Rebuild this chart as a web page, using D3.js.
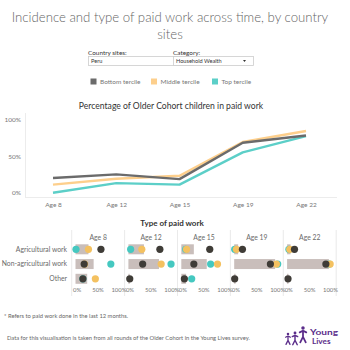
<!DOCTYPE html>
<html><head><meta charset="utf-8">
<script src="https://cdn.jsdelivr.net/npm/d3@7"></script>
<style>body{margin:0;background:#fff;}svg{display:block;font-family:Lato,"Open Sans",sans-serif;}</style>
</head><body>
<script>
// ---- data ----
const ages = ["Age 8","Age 12","Age 15","Age 19","Age 22"];
const terciles = ["Bottom tercile","Middle tercile","Top tercile"];
const bottomPct = [0.20,0.25,0.185,0.68,0.78];
const middlePct = [0.11,0.19,0.23,0.69,0.84];
const topPct    = [0.00,0.13,0.11,0.55,0.77];
const yTicks = [0,0.5,1];
const yTickLabels = ["0%","50%","100%"];

const workTypes = ["Agricultural work","Non-agricultural work","Other"];
// per age: [agricultural, non-agricultural, other]
const workAll    = [[0.29,0.41,0.26],[0.35,0.70,0.02],[0.28,0.58,0.10],[0.08,0.94,0.02],[0.07,0.96,0.02]];
const workBottom = [[0.58,0.19,0.16],[0.72,0.32,0.02],[0.65,0.28,0.06],[0.18,0.83,0.00],[0.16,0.89,0.01]];
const workMiddle = [[0.29,0.20,0.45],[0.30,0.75,null],[0.11,0.83,null],[0.04,0.97,null],[0.05,0.99,null]];
const workTop    = [[0.00,0.81,0.16],[0.04,0.98,null],[0.09,0.67,0.23],[0.00,1.00,null],[0.03,0.97,null]];
const xTicks = [0,0.5,1];
const xTickLabels = ["0%","50%","100%"];

const colors = {bottom:"#6b6b6b", middle:"#fdcf8c", top:"#5ccfc8"};
const dotColors = {bottom:"#3f3c37", middle:"#f4c160", top:"#45c8c0"};

const svg = d3.select("body").append("svg").attr("width",350).attr("height",350);
const txtCol = "#6a6a6a";

// ---- title ----
svg.append("text").attr("x",170).attr("y",22).attr("text-anchor","middle")
  .attr("font-size",13.2).attr("fill","#666").attr("font-weight",300).text("Incidence and type of paid work across time, by country");
svg.append("text").attr("x",170).attr("y",39).attr("text-anchor","middle")
  .attr("font-size",13.2).attr("fill","#666").attr("font-weight",300).text("sites");

// ---- dropdowns ----
function dropdown(x,w,label,value){
  svg.append("text").attr("x",x).attr("y",54.5).attr("font-size",6.4).attr("fill","#333").text(label);
  svg.append("rect").attr("x",x+0.5).attr("y",56.5).attr("width",w).attr("height",9).attr("fill","#fff").attr("stroke","#ccc").attr("stroke-width",0.8);
  svg.append("text").attr("x",x+3).attr("y",63.2).attr("font-size",5.6).attr("fill","#333").text(value);
  svg.append("path").attr("d",`M${x+w-10},60 l3,0 l-1.5,2 z`).attr("fill","#333");
}
dropdown(88,105,"Country sites:","Peru");
dropdown(173,80,"Category:","Household Wealth");

// ---- legend ----
const legX = [90.5,151,212];
const legCols = [colors.bottom, colors.middle, colors.top];
terciles.forEach((t,i)=>{
  svg.append("rect").attr("x",legX[i]).attr("y",78.5).attr("width",6).attr("height",6).attr("fill",legCols[i]);
  svg.append("text").attr("x",legX[i]+9.5).attr("y",84).attr("font-size",6.5).attr("fill","#777").text(t);
});

// ---- line chart ----
svg.append("text").attr("x",171).attr("y",108.5).attr("text-anchor","middle").attr("font-size",8.6).attr("fill","#333").text("Percentage of Older Cohort children in paid work");
const x = d3.scalePoint().domain(ages).range([53,306]);
const y = d3.scaleLinear().domain([0,1]).range([192.7,119.3]);
svg.append("line").attr("x1",25.5).attr("x2",25.5).attr("y1",113).attr("y2",197).attr("stroke","#ececec");
svg.append("line").attr("x1",25).attr("x2",337).attr("y1",197.5).attr("y2",197.5).attr("stroke","#ececec");
const yAxis = d3.axisLeft(y).tickValues(yTicks).tickFormat((d,i)=>yTickLabels[i]).tickSize(0).tickPadding(4);
const yg = svg.append("g").attr("transform","translate(25,0)").call(yAxis);
yg.select(".domain").remove();
yg.selectAll("text").attr("font-size",6.5).attr("fill","#777").attr("font-family","Lato,sans-serif");
const xAxis = d3.axisBottom(x).tickSize(0).tickPadding(5);
const xg = svg.append("g").attr("transform","translate(0,197.5)").call(xAxis);
xg.select(".domain").remove();
xg.selectAll("text").attr("font-size",6.5).attr("fill","#777").attr("font-family","Lato,sans-serif");
const line = d3.line().x((d,i)=>x(ages[i])).y(d=>y(d));
[[middlePct,colors.middle],[topPct,colors.top],[bottomPct,colors.bottom]].forEach(([s,c])=>{
  svg.append("path").attr("d",line(s)).attr("fill","none").attr("stroke",c).attr("stroke-width",2.4).attr("stroke-linejoin","round");
});

// ---- dot panel ----
svg.append("text").attr("x",172).attr("y",225.5).attr("text-anchor","middle").attr("font-size",8).attr("font-weight",700).attr("fill","#333").text("Type of paid work");
const seps = [71.7,124.6,177.5,230.4,283.3,336.2];
const yRow = d3.scalePoint().domain(workTypes).range([249.3,278.8]);
workTypes.forEach(w=>{
  svg.append("text").attr("x",67).attr("y",yRow(w)+2.4).attr("text-anchor","end").attr("font-size",6.8).attr("font-weight",400).attr("fill",txtCol).text(w);
});
seps.forEach(s=>{
  svg.append("line").attr("x1",s).attr("x2",s).attr("y1",230).attr("y2",296).attr("stroke","#e4e4e4").attr("stroke-width",0.8);
});
ages.forEach((a,i)=>{
  const xs = d3.scaleLinear().domain([-0.1,1.13]).range([seps[i],seps[i+1]]);
  const g = svg.append("g");
  g.append("text").attr("x",(seps[i]+seps[i+1])/2).attr("y",239.5).attr("text-anchor","middle").attr("font-size",6.8).attr("fill",txtCol).text(a);
  workTypes.forEach((w,j)=>{
    const v = workAll[i][j];
    g.append("rect").attr("x",xs(0)-0.5).attr("y",yRow(w)-5).attr("width",Math.max(1,xs(v)-xs(0)+0.5)).attr("height",10).attr("fill","#c9bebb");
  });
  [[workTop,dotColors.top],[workMiddle,dotColors.middle],[workBottom,dotColors.bottom]].forEach(([arr,c])=>{
    workTypes.forEach((w,j)=>{
      const v = arr[i][j];
      if(v==null) return;
      g.append("circle").attr("cx",xs(v)).attr("cy",yRow(w)).attr("r",3.6).attr("fill",c);
    });
  });
  const ax = d3.axisBottom(xs).tickValues(xTicks).tickFormat((d,k)=>xTickLabels[k]).tickSize(0).tickPadding(0);
  const axg = g.append("g").attr("transform","translate(0,288)").call(ax);
  axg.select(".domain").remove();
  axg.selectAll("text").attr("font-size",5.9).attr("fill","#777").attr("font-family","Lato,sans-serif");
  axg.selectAll("text").filter((d)=>d===1).attr("dx",-0.6);
  axg.selectAll("text").filter((d)=>d===0).attr("dx",0.6);
});

// ---- footnotes ----
svg.append("text").attr("x",4).attr("y",317.5).attr("font-size",5.8).attr("fill","#666").text("* Refers to paid work done in the last 12 months.");
svg.append("text").attr("x",7).attr("y",339.5).attr("font-size",5.8).attr("fill","#666").text("Data for this visualisation is taken from all rounds of the Older Cohort in the Young Lives survey.");

// ---- logo ----
const purple = "#5b2d8a";
const lg = svg.append("g").attr("fill",purple).attr("stroke",purple);
[[288,334,0.8],[295,333,0.9],[303,328,1.1]].forEach(([cx,cy,s])=>{
  lg.append("circle").attr("cx",cx).attr("cy",cy).attr("r",1.6*s).attr("stroke","none");
  lg.append("path").attr("d",`M${cx-3*s},${cy+4*s} L${cx},${cy+2.5*s} L${cx+3*s},${cy+4*s} M${cx},${cy+2.5*s} L${cx},${cy+8*s} M${cx},${cy+8*s} L${cx-2.5*s},${cy+13*s} M${cx},${cy+8*s} L${cx+2.5*s},${cy+13*s}`)
    .attr("fill","none").attr("stroke-width",1.6*s).attr("stroke-linecap","round");
});
svg.append("text").attr("x",310).attr("y",334.5).attr("font-size",8.2).attr("font-weight",700).attr("fill",purple)
  .attr("textLength",28).attr("lengthAdjust","spacingAndGlyphs").text("Young");
svg.append("text").attr("x",312).attr("y",344).attr("font-size",8.2).attr("font-weight",700).attr("fill",purple).text("Lives");
</script>
</body></html>
